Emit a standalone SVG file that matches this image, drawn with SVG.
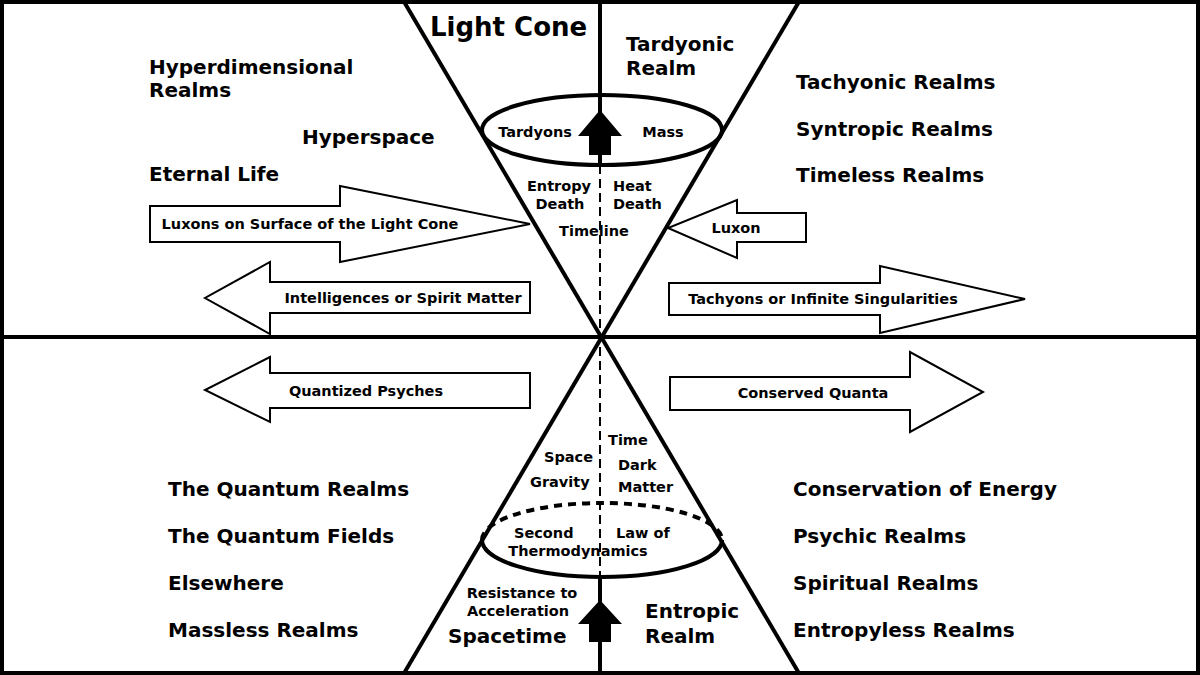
<svg xmlns="http://www.w3.org/2000/svg" width="1200" height="675" viewBox="0 0 1200 675">
<style>
text{font-family:"DejaVu Sans",Verdana,sans-serif;font-weight:bold;fill:#000}
.b{font-size:20px}.s{font-size:14.5px}.m{text-anchor:middle}
.ln{stroke:#000;stroke-width:4;fill:none}
.ar{fill:#fff;stroke:#000;stroke-width:2}
</style>
<rect x="0" y="0" width="1200" height="675" fill="#fff"/>
<g id="connectors">
<rect x="2" y="2" width="1196" height="671" class="ln"/>
<line x1="0" y1="337" x2="1200" y2="337" class="ln"/>
<line x1="403" y1="0" x2="800" y2="675" class="ln"/>
<line x1="800" y1="0" x2="403" y2="675" class="ln"/>
<line x1="600" y1="0" x2="600" y2="165" class="ln"/>
<line x1="600" y1="165" x2="600" y2="577" stroke="#000" stroke-width="2" stroke-dasharray="9,5"/>
<line x1="600" y1="577" x2="600" y2="675" class="ln"/>
<ellipse cx="602" cy="130" rx="120" ry="35" class="ln"/>
<path d="M482,540 A120,37 0 0 0 722,540" class="ln"/>
<path d="M482,540 A120,37 0 0 1 722,540" class="ln" stroke-dasharray="8,6"/>
<polygon points="600,110 622,136 611,136 611,155 589,155 589,136 578,136" fill="#000"/>
<polygon points="600,600 622,624 611,624 611,642 589,642 589,624 578,624" fill="#000"/>
</g>
<g id="luxons"><polygon class="ar" points="150,206 340,206 340,186 530,224 340,262 340,242 150,242"/><text class="s m" x="310" y="229">Luxons on Surface of the Light Cone</text></g>
<g id="luxon"><polygon class="ar" points="806,213 737,213 737,200 668,228 737,258 737,242 806,242"/><text class="s m" x="736" y="233">Luxon</text></g>
<g id="intel"><polygon class="ar" points="530,282 270,282 270,262 205,298 270,334 270,313 530,313"/><text class="s m" x="403" y="303">Intelligences or Spirit Matter</text></g>
<g id="tach"><polygon class="ar" points="669,283 880,283 880,266 1025,299 880,333 880,315 669,315"/><text class="s m" x="823" y="304">Tachyons or Infinite Singularities</text></g>
<g id="psyches"><polygon class="ar" points="530,373 270,373 270,357 205,390 270,422 270,408 530,408"/><text class="s m" x="366" y="396">Quantized Psyches</text></g>
<g id="quanta"><polygon class="ar" points="670,377 910,377 910,352 983,392 910,432 910,410 670,410"/><text class="s m" x="813" y="398">Conserved Quanta</text></g>
<g id="labels">
<text x="430" y="36" font-size="26">Light Cone</text>
<text class="b" x="626" y="51">Tardyonic</text><text class="b" x="626" y="75">Realm</text>
<text class="b" x="149" y="74">Hyperdimensional</text><text class="b" x="149" y="97">Realms</text>
<text class="b" x="302" y="144">Hyperspace</text>
<text class="b" x="149" y="181">Eternal Life</text>
<text class="b" x="796" y="89">Tachyonic Realms</text>
<text class="b" x="796" y="136">Syntropic Realms</text>
<text class="b" x="796" y="182">Timeless Realms</text>
<text class="s m" x="535" y="137">Tardyons</text>
<text class="s m" x="663" y="137">Mass</text>
<text class="s m" x="559" y="191">Entropy</text><text class="s m" x="560" y="209">Death</text>
<text class="s" x="613" y="191">Heat</text><text class="s" x="613" y="209">Death</text>
<text class="s m" x="594" y="236">Timeline</text>
<text class="s" x="608" y="445">Time</text>
<text class="s" x="544" y="462">Space</text>
<text class="s" x="530" y="487">Gravity</text>
<text class="s" x="618" y="470">Dark</text><text class="s" x="618" y="492">Matter</text>
<text class="s" x="514" y="538">Second</text>
<text class="s" x="616" y="538">Law of</text>
<text class="s m" x="578" y="556">Thermodynamics</text>
<text class="s m" x="522" y="598">Resistance to</text>
<text class="s m" x="518" y="616">Acceleration</text>
<text class="b" x="448" y="643">Spacetime</text>
<text class="b" x="645" y="618">Entropic</text><text class="b" x="645" y="643">Realm</text>
<text class="b" x="168" y="496">The Quantum Realms</text>
<text class="b" x="168" y="543">The Quantum Fields</text>
<text class="b" x="168" y="590">Elsewhere</text>
<text class="b" x="168" y="637">Massless Realms</text>
<text class="b" x="793" y="496">Conservation of Energy</text>
<text class="b" x="793" y="543">Psychic Realms</text>
<text class="b" x="793" y="590">Spiritual Realms</text>
<text class="b" x="793" y="637">Entropyless Realms</text>
</g>
</svg>
